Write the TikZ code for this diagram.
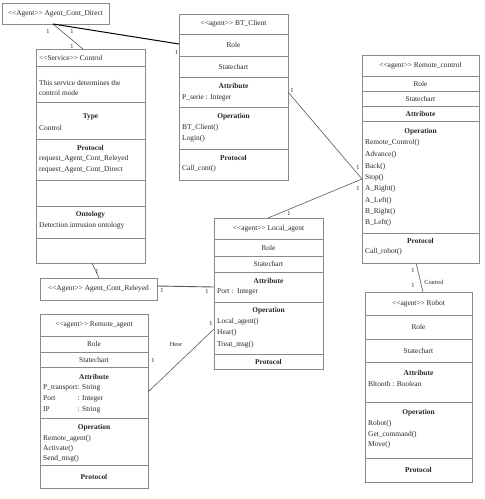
\documentclass[tikz,border=0pt]{standalone}
\usepackage{fontspec}
\setmainfont{Liberation Serif}
\definecolor{boxgray}{HTML}{8A8A8A}
\definecolor{inkc}{HTML}{262626}
\definecolor{linkc}{HTML}{5A5A5A}
\begin{document}
\begin{tikzpicture}[x=1pt,y=-1pt,
  umlbox/.style={draw=boxgray,line width=0.6pt,inner sep=0pt,outer sep=0pt,anchor=north west,fill=white},
  divider/.style={draw=boxgray,line width=0.6pt},
  txt/.style={font=\fontsize{7.4}{9}\selectfont,text=inkc,inner sep=0pt,anchor=west},
  ctxt/.style={txt,anchor=center},
  hdr/.style={txt,anchor=center,font=\fontsize{7.4}{9}\selectfont\bfseries},
  mult/.style={font=\fontsize{6.3}{7}\selectfont,text=inkc,inner sep=0pt},
  link/.style={draw=linkc,line width=0.6pt},
  strong/.style={draw=black,line width=1pt}]
\fill[white] (0,0) rectangle (485,499);
\useasboundingbox (0,0) rectangle (485,499);

% ---------- Agent_Cont_Direct ----------
\node[umlbox,minimum width=107pt,minimum height=21pt] (acd) at (2,3) {};
\node[ctxt] (acdT) at (55.5,13.5) {<{}<Agent>{}> Agent\_Cont\_Direct};

% ---------- Control ----------
\node[umlbox,minimum width=109pt,minimum height=214pt] (ctrl) at (36,49) {};
\foreach \yy in {66,102,139,180,206,238} \draw[divider] (36,\yy) -- (145,\yy);
\node[txt] (ctT) at (39,58) {<{}<Service>{}> Control};
\node[txt] (ct1) at (39,83) {This service determines the};
\node[txt] (ct2) at (39,93) {control mode};
\node[hdr] (ctH1) at (90.5,117) {Type};
\node[txt] (ct3) at (39,128) {Control};
\node[hdr] (ctH2) at (90.5,148) {Protocol};
\node[txt] (ct4) at (39,159) {request\_Agent\_Cont\_Releyed};
\node[txt] (ct5) at (39,170) {request\_Agent\_Cont\_Direct};
\node[hdr] (ctH3) at (90.5,215) {Ontology};
\node[txt] (ct6) at (39,226) {Detection intrusion ontology};

% ---------- BT_Client ----------
\node[umlbox,minimum width=109pt,minimum height=166pt] (btc) at (179,14) {};
\foreach \yy in {34,56,77,107,149} \draw[divider] (179,\yy) -- (288,\yy);
\node[ctxt] (btT) at (233.5,24) {<{}<agent>{}> BT\_Client};
\node[ctxt] (btR) at (233.5,45) {Role};
\node[ctxt] (btS) at (233.5,66.5) {Statechart};
\node[hdr] (btH1) at (233.5,86) {Attribute};
\node[txt] (bt1) at (182,98) {P\_serie : Integer};
\node[hdr] (btH2) at (233.5,117) {Operation};
\node[txt] (bt2) at (182,128) {BT\_Client()};
\node[txt] (bt3) at (182,139) {Login()};
\node[hdr] (btH3) at (233.5,158) {Protocol};
\node[txt] (bt4) at (182,169) {Call\_cont()};

% ---------- Remote_control ----------
\node[umlbox,minimum width=117pt,minimum height=208pt] (rc) at (362,55) {};
\foreach \yy in {76,91,106,121,233} \draw[divider] (362,\yy) -- (479,\yy);
\node[ctxt] (rcT) at (420.5,65.5) {<{}<agent>{}> Remote\_control};
\node[ctxt] (rcR) at (420.5,83.5) {Role};
\node[ctxt] (rcS) at (420.5,98.5) {Statechart};
\node[hdr] (rcH1) at (420.5,113.5) {Attribute};
\node[hdr] (rcH2) at (420.5,132) {Operation};
\node[txt] (rc1) at (365,143) {Remote\_Control()};
\node[txt] (rc2) at (365,155) {Advance()};
\node[txt] (rc3) at (365,166.5) {Back()};
\node[txt] (rc4) at (365,178) {Stop()};
\node[txt] (rc5) at (365,189) {A\_Right()};
\node[txt] (rc6) at (365,200.5) {A\_Left()};
\node[txt] (rc7) at (365,212) {B\_Right()};
\node[txt] (rc8) at (365,223) {B\_Left()};
\node[hdr] (rcH3) at (420.5,241) {Protocol};
\node[txt] (rc9) at (365,252) {Call\_robot()};

% ---------- Local_agent ----------
\node[umlbox,minimum width=109pt,minimum height=151pt] (la) at (214,218) {};
\foreach \yy in {239,256,272,302,354} \draw[divider] (214,\yy) -- (323,\yy);
\node[ctxt] (laT) at (268.5,228.5) {<{}<agent>{}> Local\_agent};
\node[ctxt] (laR) at (268.5,247.5) {Role};
\node[ctxt] (laS) at (268.5,264) {Statechart};
\node[hdr] (laH1) at (268.5,280.5) {Attribute};
\node[txt] (la1) at (217,291.5) {Port :\ \ Integer};
\node[hdr] (laH2) at (268.5,311) {Operation};
\node[txt] (la2) at (217,322) {Local\_agent()};
\node[txt] (la3) at (217,333) {Hear()};
\node[txt] (la4) at (217,344.5) {Treat\_msg()};
\node[hdr] (laH3) at (268.5,361.5) {Protocol};

% ---------- Agent_Cont_Releyed ----------
\node[umlbox,minimum width=117pt,minimum height=22pt] (acr) at (40,278) {};
\node[ctxt] (acrT) at (98.5,289) {<{}<Agent>{}> Agent\_Cont\_Releyed};

% ---------- Remote_agent ----------
\node[umlbox,minimum width=108pt,minimum height=174pt] (ra) at (40,314) {};
\foreach \yy in {336,352,367,418,465} \draw[divider] (40,\yy) -- (148,\yy);
\node[ctxt] (raT) at (94,325) {<{}<agent>{}> Remote\_agent};
\node[ctxt] (raR) at (94,344) {Role};
\node[ctxt] (raS) at (94,359.5) {Statechart};
\node[hdr] (raH1) at (94,376.5) {Attribute};
\node[txt] (ra1) at (43,387.5) {P\_transport};
\node[txt] (ra1v) at (77.5,387.5) {: String};
\node[txt] (ra2) at (43,398.5) {Port};
\node[txt] (ra2v) at (77.5,398.5) {: Integer};
\node[txt] (ra3) at (43,409.5) {IP};
\node[txt] (ra3v) at (77.5,409.5) {: String};
\node[hdr] (raH2) at (94,428) {Operation};
\node[txt] (ra4) at (43,438.5) {Remote\_agent()};
\node[txt] (ra5) at (43,448.5) {Activate()};
\node[txt] (ra6) at (43,458.5) {Send\_msg()};
\node[hdr] (raH3) at (94,476.5) {Protocol};

% ---------- Robot ----------
\node[umlbox,minimum width=107pt,minimum height=190pt] (rob) at (365,292) {};
\foreach \yy in {315,339,362,402,458} \draw[divider] (365,\yy) -- (472,\yy);
\node[ctxt] (roT) at (418.5,303.5) {<{}<agent>{}> Robot};
\node[ctxt] (roR) at (418.5,327) {Role};
\node[ctxt] (roS) at (418.5,350.5) {Statechart};
\node[hdr] (roH1) at (418.5,372.5) {Attribute};
\node[txt] (ro1) at (368,384) {Bltooth : Boolean};
\node[hdr] (roH2) at (418.5,412.5) {Operation};
\node[txt] (ro2) at (368,423.5) {Robot()};
\node[txt] (ro3) at (368,434.5) {Get\_command()};
\node[txt] (ro4) at (368,445) {Move()};
\node[hdr] (roH3) at (418.5,470) {Protocol};

% ---------- connectors ----------
\draw[link] ([xshift=51pt]acd.south west) -- ([xshift=47pt]ctrl.north west);
\draw[strong] ([xshift=51pt]acd.south west) -- ([yshift=-30pt]btc.north west);
\draw[link] ([yshift=-78pt]btc.north east) -- ([yshift=-124pt]rc.north west);
\draw[link] ([xshift=54pt]la.north west) -- ([yshift=-124pt]rc.north west);
\draw[link] ([xshift=56pt]ctrl.south west) -- ([xshift=59pt]acr.north west);
\draw[link,line width=0.9pt] ([yshift=-8pt]acr.north east) -- ([yshift=-69pt]la.north west);
\draw[link] ([yshift=-78pt]ra.north east) -- ([yshift=-111pt]la.north west);
\draw[link] ([xshift=54pt]rc.south west) -- ([xshift=58pt]rob.north west);

% ---------- multiplicities and labels ----------
\node[mult] (m1) at (48,31.5) {1};
\node[mult] (m2) at (72,31.5) {1};
\node[mult] (m3) at (72,46.5) {1};
\node[mult] (m4) at (176.5,52) {1};
\node[mult] (m5) at (292,90) {1};
\node[mult] (m6) at (358,167) {1};
\node[mult] (m7) at (358,188) {1};
\node[mult] (m8) at (289,213) {1};
\node[mult] (m9) at (97,271) {1};
\node[mult] (m10) at (162,290) {1};
\node[mult] (m11) at (207,291) {1};
\node[mult] (m12) at (153,360) {1};
\node[mult] (m13) at (211,323) {1};
\node[mult] (m14) at (413,270) {1};
\node[mult] (m15) at (413,285) {1};
\node[mult] (lHear) at (176,344) {Hear};
\node[mult] (lCtrl) at (434,282) {Control};
\end{tikzpicture}
\end{document}
